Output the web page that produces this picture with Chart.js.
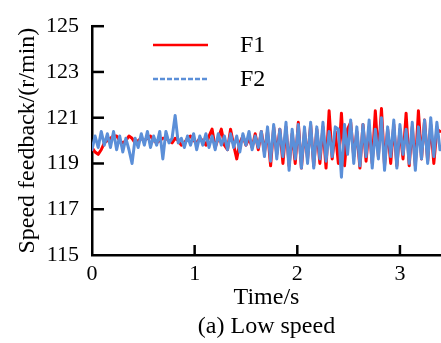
<!DOCTYPE html>
<html>
<head>
<meta charset="utf-8">
<script src="https://cdn.jsdelivr.net/npm/chart.js@4.4.0/dist/chart.umd.min.js"></script>
<style>
  html, body { margin: 0; padding: 0; background: #fff; }
</style>
</head>
<body>
<canvas id="speed" width="441" height="343"></canvas>
<script>
// sample step of the recorded signals (s)
const step = 0.03;

// F1 (red), one value every 0.03 s from 0 to 3.39 s
const f1 = [
  119.7, 119.5, 119.4, 119.6, 119.9, 120.0, 120.1, 120.2, 120.2, 120.0, 119.9, 120.0, 120.2, 120.1, 119.9, 120.0, 120.1, 120.0, 120.1, 120.2, 120.0,
  119.9, 120.0, 120.1, 120.1, 120.0, 119.9, 120.1, 120.0, 119.8, 119.9, 120.1, 120.2, 120.0, 119.9, 120.1, 120.0, 119.8, 120.2, 120.5, 119.7,
  120.1, 120.5, 119.8, 119.6, 120.5, 119.8, 119.2, 119.9, 120.2, 119.8, 120.1, 119.7, 120.3, 119.6, 120.4,
  119.5, 120.4, 118.9, 120.6, 119.4, 120.5, 119.0, 120.6, 118.9, 120.3, 119.0, 120.8, 118.8, 120.4, 119.2, 120.7, 118.9, 120.5, 119.0, 120.6,
  118.8, 121.3, 119.2, 120.4, 119.0, 121.2, 118.9, 120.5, 120.8, 119.3, 120.4, 118.8, 120.7, 119.1, 120.6, 119.0, 121.3, 119.3, 121.4, 118.9,
  120.5, 119.0, 120.7, 118.9, 120.5, 119.2, 121.2, 118.9, 120.6, 118.9, 121.3, 119.2, 120.9, 119.1, 120.7, 119.0, 120.5, 120.4
];

// F2 (blue), same time base
const f2 = [
  119.6, 120.2, 119.7, 120.4, 119.8, 120.3, 119.7, 120.4, 119.6, 120.2, 119.5, 120.1, 119.6, 119.0, 120.1, 119.7, 120.3, 119.8, 120.4, 119.7, 120.2,
  119.8, 120.4, 119.2, 120.4, 119.9, 120.1, 121.1, 119.9, 120.1, 119.7, 120.2, 119.8, 120.3, 119.6, 120.2, 119.8, 120.3, 119.7, 120.2, 119.6,
  120.3, 119.8, 120.2, 119.6, 120.3, 119.7, 120.2, 119.5, 120.3, 119.8, 120.4, 119.6, 120.2, 119.7, 120.4,
  119.3, 120.6, 119.1, 120.7, 119.2, 120.5, 119.3, 120.8, 118.7, 120.5, 119.2, 120.7, 118.8, 120.6, 119.0, 120.8, 118.8, 120.6, 119.2, 120.8,
  119.1, 120.4, 119.3, 120.6, 120.5, 118.4, 120.7, 119.4, 120.9, 119.0, 120.6, 118.9, 120.7, 119.3, 120.9, 118.8, 120.5, 119.2, 121.0, 118.7,
  120.6, 119.3, 120.9, 118.8, 120.7, 119.4, 120.5, 119.0, 120.8, 118.7, 120.6, 119.2, 120.9, 119.0, 121.0, 119.3, 120.8, 119.6
];

const xTicks = [0, 1, 2, 3];
const yTicks = [115, 117, 119, 121, 123, 125];
const legendItems = [
  { label: 'F1', color: '#ff0000', dash: [] },
  { label: 'F2', color: '#5b8fd8', dash: [5, 2] }
];

const serif = 'Liberation Serif';

function toPoints(arr) {
  return arr.map((v, i) => ({ x: +(i * step).toFixed(3), y: v }));
}

// inward tick marks + legend inside the plot
const extras = {
  id: 'extras',
  afterDraw(chart) {
    const ctx = chart.ctx;
    const xs = chart.scales.x, ys = chart.scales.y;
    const area = chart.chartArea;
    ctx.save();
    ctx.strokeStyle = '#000';
    ctx.lineWidth = 2.5;
    yTicks.forEach(v => {
      if (v === ys.min) return;
      const py = ys.getPixelForValue(v);
      ctx.beginPath();
      ctx.moveTo(area.left, py);
      ctx.lineTo(area.left + 12, py);
      ctx.stroke();
    });
    xTicks.forEach(v => {
      if (v === xs.min) return;
      const px = xs.getPixelForValue(v);
      ctx.beginPath();
      ctx.moveTo(px, area.bottom);
      ctx.lineTo(px, area.bottom - 10);
      ctx.stroke();
    });

    ctx.font = '24px "' + serif + '"';
    ctx.fillStyle = '#000';
    ctx.textBaseline = 'middle';
    legendItems.forEach((it, i) => {
      const y = 45 + i * 34;
      ctx.strokeStyle = it.color;
      ctx.lineWidth = 2.5;
      ctx.setLineDash(it.dash);
      ctx.beginPath();
      ctx.moveTo(153, y);
      ctx.lineTo(208, y);
      ctx.stroke();
      ctx.setLineDash([]);
      ctx.fillText(it.label, 240, y + 1);
    });
    ctx.restore();
  }
};

new Chart(document.getElementById('speed'), {
  type: 'line',
  data: {
    datasets: [
      {
        label: 'F2',
        data: toPoints(f2),
        borderColor: '#5b8fd8',
        borderWidth: 3,
        borderJoinStyle: 'round',
        borderCapStyle: 'round',
        pointRadius: 0,
        tension: 0
      },
      {
        label: 'F1',
        data: toPoints(f1),
        borderColor: '#ff0000',
        borderWidth: 3,
        borderJoinStyle: 'round',
        borderCapStyle: 'round',
        pointRadius: 0,
        tension: 0
      }
    ]
  },
  options: {
    responsive: false,
    animation: false,
    events: [],
    layout: { padding: { top: 21, right: 0, left: 0, bottom: 0 } },
    plugins: { legend: { display: false }, tooltip: { enabled: false } },
    scales: {
      x: {
        type: 'linear',
        min: 0,
        max: 3.4,
        afterBuildTicks: s => { s.ticks = xTicks.map(v => ({ value: v })); },
        afterFit: s => { s.height = 88; },
        grid: { display: false, drawTicks: false },
        border: { color: '#000', width: 2.5 },
        ticks: { color: '#000', padding: 6, font: { family: serif, size: 22 } },
        title: {
          display: true,
          text: ['Time/s', '(a) Low speed'],
          color: '#000',
          padding: { top: 0, bottom: 1.5 },
          font: { family: serif, size: 24, lineHeight: 1.21 }
        }
      },
      y: {
        min: 115,
        max: 125,
        afterBuildTicks: s => { s.ticks = yTicks.map(v => ({ value: v })); },
        afterFit: s => { s.width = 92; },
        grid: { display: false, drawTicks: false },
        border: { color: '#000', width: 2.5 },
        ticks: { color: '#000', padding: 13, font: { family: serif, size: 22 } },
        title: {
          display: true,
          text: 'Speed feedback/(r/min)',
          color: '#000',
          padding: { top: 13, bottom: 0 },
          font: { family: serif, size: 24 }
        }
      }
    }
  },
  plugins: [extras]
});
</script>
</body>
</html>
